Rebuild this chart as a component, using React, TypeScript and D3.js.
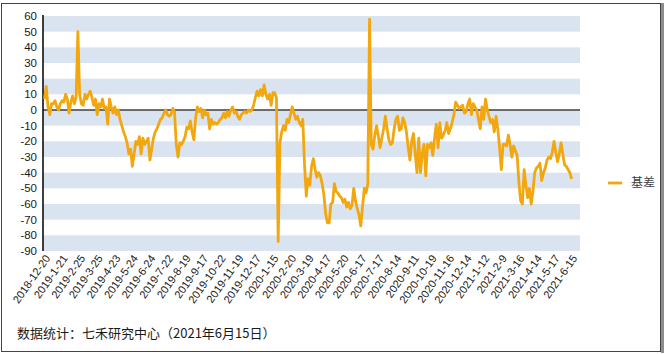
import React from "react";
import * as d3 from "d3";

const dateLabels = [
  "2018-12-20", "2019-1-21", "2019-2-25", "2019-3-25", "2019-4-23", "2019-5-24",
  "2019-6-24", "2019-7-22", "2019-8-19", "2019-9-17", "2019-10-22", "2019-11-19",
  "2019-12-17", "2020-1-15", "2020-2-20", "2020-3-19", "2020-4-17", "2020-5-20",
  "2020-6-17", "2020-7-17", "2020-8-14", "2020-9-11", "2020-10-19", "2020-11-16",
  "2020-12-14", "2021-1-12", "2021-2-9", "2021-3-16", "2021-4-14", "2021-5-17",
  "2021-6-15",
];

const yTicks = [60, 50, 40, 30, 20, 10, 0, -10, -20, -30, -40, -50, -60, -70, -80, -90];

const seriesName = "基差";

// basis, sampled every second trading day
const basis = [
  7, 15, 2, -3, 4, 4, 6, 2, 0, 4,
  6, 5, 10, 7, -2, 5, 9, 4, 8, 50,
  10, 4, 3, 10, 7, 10, 12, 8, 3, 7,
  -3, 4, 2, 7, 1, 2, -9, 7, 2, -2,
  2, -3, 0, -6, -10, -14, -17, -21, -28, -25,
  -36, -28, -20, -22, -17, -28, -18, -22, -20, -18,
  -32, -25, -18, -14, -12, -9, -6, -5, -2, 0,
  -3, -4, -3, 1, -1, -22, -30, -21, -22, -20,
  -17, -11, -12, -7, -14, -19, -5, 2, -1, 1,
  -5, 0, -3, -2, -12, -6, -9, -8, -9, -8,
  -6, -5, -2, -5, -1, -4, 0, 2, -2, -1,
  -4, -6, -3, -2, -1, -2, 0, -1, 0, 3,
  8, 12, 9, 13, 9, 16, 10, 7, 10, 3,
  11, 11, 8, -84, -21, -14, -10, -13, -6, -8,
  -3, 2, -2, -6, -4, -8, -10, -6, -35, -55,
  -44, -48, -36, -31, -38, -43, -40, -42, -47, -54,
  -66, -72, -72, -60, -59, -47, -52, -53, -55, -56,
  -59, -57, -62, -59, -63, -61, -50, -58, -63, -67,
  -74, -62, -50, -53, -47, 58, -22, -25, -16, -10,
  -17, -24, -18, -12, -4, -12, -19, -22, -21, -12,
  -6, -4, -13, -12, -5, -8, -14, -24, -32, -20,
  -15, -28, -40, -18, -40, -28, -22, -42, -22, -24,
  -21, -29, -18, -9, -24, -8, -18, -16, -13, -8,
  -15, -12, -8, -3, 5, 3, 1, 2, 3, -2,
  -1, 4, 7, -3, 4, 2, 0, -6, -12, 2,
  -6, 7, 0, -4, -8, -6, -14, -4, -12, -24,
  -38, -22, -22, -23, -16, -22, -30, -23, -26, -29,
  -46, -58, -60, -38, -48, -56, -50, -60, -52, -40,
  -37, -36, -34, -45, -40, -37, -32, -30, -31, -27,
  -20, -27, -33, -28, -21, -28, -35, -36, -38, -40, -44,
];

const LABEL_STEP = 10; // samples between date labels

export default function App() {
  const W = 666, H = 354;
  const plotL = 43, plotR = 580, plotT = 16, plotB = 251;
  const x = d3.scaleLinear().domain([0, basis.length - 1]).range([44.5, 571.6]);
  const y = d3.scaleLinear().domain([-90, 60]).range([plotB, plotT]);
  const line = d3.line<number>().x((_, i) => x(i)).y((d) => y(d));
  const font = "'Liberation Sans', Arial, sans-serif";
  const cjk = "'Noto Sans CJK SC', 'Liberation Sans', sans-serif";
  const lineColor = "#F3A70F";

  const bands = yTicks.slice(0, -1).filter((_, i) => i % 2 === 0);

  return (
    <svg width={W} height={H} style={{ position: "absolute", left: 0, top: 0, background: "#fff" }}>
      <rect x={0} y={0} width={W} height={H} fill="#fff" />
      {bands.map((v) => (
        <rect key={v} x={plotL} y={y(v)} width={plotR - plotL} height={y(v - 10) - y(v)} fill="#DAE4F0" />
      ))}
      <line x1={plotL} x2={plotR} y1={y(0)} y2={y(0)} stroke="#404040" strokeWidth={1.6} />
      <line x1={plotL} x2={plotL} y1={plotT - 1} y2={plotB} stroke="#000" strokeWidth={1.5} />
      {yTicks.map((v) => (
        <text key={v} x={37} y={y(v)} dy="0.36em" textAnchor="end" fontFamily={font} fontSize={11.5} fill="#1a1a1a">
          {v}
        </text>
      ))}
      {dateLabels.map((d, i) => {
        const px = x(i * LABEL_STEP);
        return (
          <text
            key={d}
            transform={`translate(${px + 3},${plotB + 5}) rotate(-55)`}
            textAnchor="end"
            dy="0.35em"
            fontFamily={font}
            fontSize={11}
            fill="#1a1a1a"
          >
            {d}
          </text>
        );
      })}
      <path d={line(basis) || ""} fill="none" stroke={lineColor} strokeWidth={2.8} strokeLinejoin="round" />
      <line x1={608} x2={622} y1={183} y2={183} stroke={lineColor} strokeWidth={2.8} />
      <text x={631} y={183} dy="0.36em" fontFamily={cjk} fontSize={12} fill="#404040">
        {seriesName}
      </text>
      <text x={17} y={338} fontFamily={cjk} fontSize={13} fill="#1a1a1a">
        数据统计：七禾研究中心（2021年6月15日）
      </text>
      <rect x={1.5} y={3.5} width={659} height={348} fill="none" stroke="#444" strokeWidth={1} />
      <rect x={661} y={3} width={3} height={350} fill="#8c8c8c" />
    </svg>
  );
}
